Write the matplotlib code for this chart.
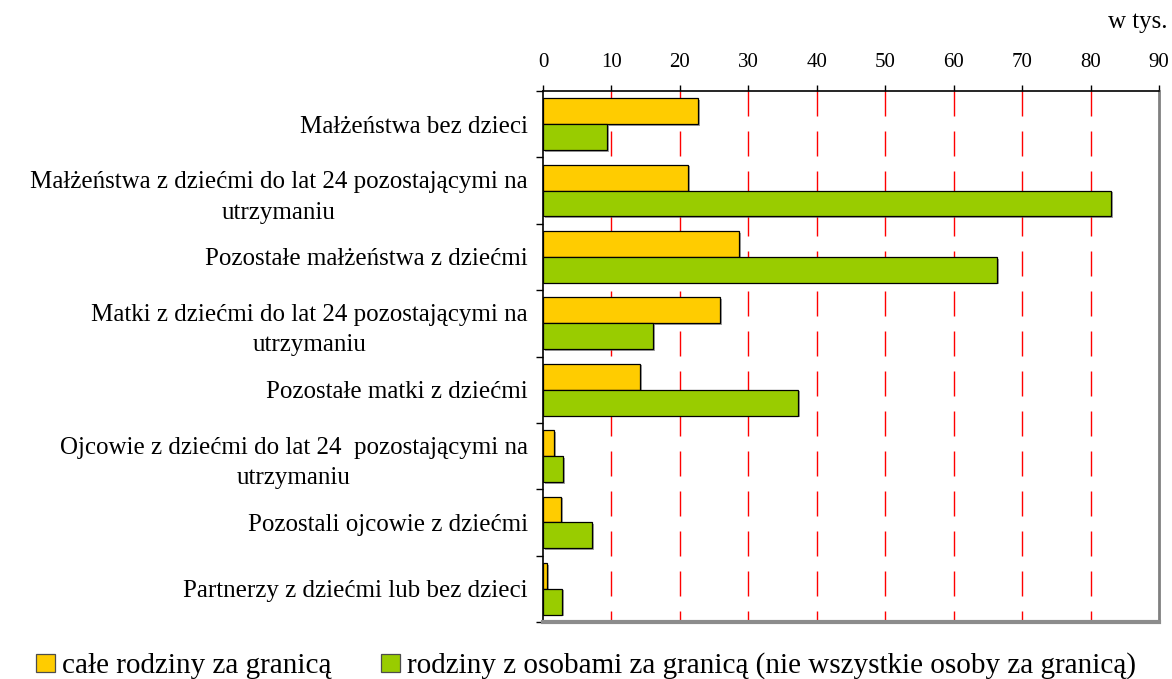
import numpy as np
import matplotlib.pyplot as plt
from matplotlib.patches import Patch
import matplotlib.patheffects as pe

plt.rcParams['font.family'] = ['Liberation Serif', 'DejaVu Serif']

# kategorie rodzin (od gory)
categories = [
    "Małżeństwa bez dzieci",
    "Małżeństwa z dziećmi do lat 24 pozostającymi na\nutrzymaniu",
    "Pozostałe małżeństwa z dziećmi",
    "Matki z dziećmi do lat 24 pozostającymi na\nutrzymaniu",
    "Pozostałe matki z dziećmi",
    "Ojcowie z dziećmi do lat 24  pozostającymi na\nutrzymaniu",
    "Pozostali ojcowie z dziećmi",
    "Partnerzy z dziećmi lub bez dzieci",
]
cale = [22.7, 21.2, 28.7, 25.9, 14.2, 1.6, 2.7, 0.6]
czesciowe = [9.4, 83.0, 66.4, 16.1, 37.3, 2.9, 7.2, 2.8]
series_names = ["całe rodziny za granicą",
                "rodziny z osobami za granicą (nie wszystkie osoby za granicą)"]
xticks = list(range(0, 100, 10))

yellow = "#FFCC00"
green = "#99CC00"

fig = plt.figure(figsize=(11.72, 6.79), dpi=100)
ax = fig.add_axes([543/1172, 1 - 622/679, (1159 - 543)/1172, (622 - 91)/679])

n = len(categories)
y = np.arange(n)
h = 0.39
shadow = [pe.SimplePatchShadow(offset=(1.2, -1.2), shadow_rgbFace="0.4", alpha=0.6), pe.Normal()]
b1 = ax.barh(y - h/2, cale, height=h, color=yellow, edgecolor="black", linewidth=0.9, zorder=3)
b2 = ax.barh(y + h/2, czesciowe, height=h, color=green, edgecolor="black", linewidth=0.9, zorder=3)
for b in list(b1) + list(b2):
    b.set_path_effects(shadow)

ax.set_xlim(0, 90)
ax.set_ylim(n - 0.5, -0.5)

# siatka - przerywane czerwone linie od gory
for v in xticks[1:-1]:
    ax.plot([v, v], [-0.5, n - 0.5], color="red", linewidth=1.0,
            linestyle=(0, (18, 10.8)), zorder=1)

ax.xaxis.tick_top()
ax.set_xticks(xticks)
ax.set_xticklabels([str(v) for v in xticks], fontsize=15)
ax.tick_params(axis="x", direction="out", length=4, width=1, pad=10, colors="black")

ax.set_yticks(np.arange(n + 1) - 0.5, minor=True)
ax.set_yticks(y)
ax.set_yticklabels(categories, fontsize=18, multialignment="center", linespacing=1.5)
ax.tick_params(axis="y", which="major", length=0, pad=11)
ax.tick_params(axis="y", which="minor", length=5, width=1, direction="out")

ax.spines["top"].set_color("black")
ax.spines["top"].set_linewidth(1.2)
ax.spines["left"].set_color("black")
ax.spines["left"].set_linewidth(1.2)
ax.spines["right"].set_color("0.5")
ax.spines["right"].set_linewidth(2)
ax.spines["bottom"].set_color("0.55")
ax.spines["bottom"].set_linewidth(3)

fig.text(1167/1172, 1 - 22/679, "w tys.", ha="right", va="center", fontsize=18)

handles = [Patch(facecolor=yellow, edgecolor="0.3", linewidth=0.9),
           Patch(facecolor=green, edgecolor="0.3", linewidth=0.9)]
fig.legend(handles, series_names, loc="center left", bbox_to_anchor=(36/1172, 1 - 666/679),
           ncol=2, frameon=False, fontsize=21, handlelength=0.65, handleheight=0.55,
           handletextpad=0.24, columnspacing=1.7, borderaxespad=0, borderpad=0)

fig.savefig("out.png", dpi=100)
